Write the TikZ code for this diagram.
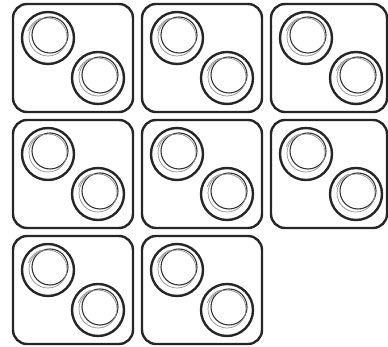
\documentclass[tikz,border=0pt]{standalone}
\begin{document}
\begin{tikzpicture}[x=1pt,y=-1pt,
  boxline/.style={draw=black!85,line width=2.4pt,rounded corners=14pt},
  coinout/.style={draw=black!85,line width=2.4pt},
  coinin/.style={draw=black!80,line width=1.1pt},
  coinin2/.style={draw=black!45,line width=0.7pt},
  shade/.style={draw=black!40,line width=0.8pt},
  pics/coinbox/.style={code={
    \draw[boxline] (0,0) rectangle (#1,108);
    \foreach \cx/\cy in {35/34, 85/74}{
      \draw[coinout] (\cx,\cy) circle[radius=26];
      \draw[coinin] (\cx+2,\cy-3) circle[radius=18];
      \draw[coinin2] (\cx,\cy-1) circle[radius=19];
      \draw[shade] (\cx,\cy) ++(200:21) arc[start angle=200,end angle=250,radius=21];
    }
  }}]
\useasboundingbox (0,0) rectangle (388,347);
\pic at (13,4) {coinbox=120};
\pic at (142,4) {coinbox=120};
\pic at (271,4) {coinbox=116};
\pic at (13,120) {coinbox=120};
\pic at (142,120) {coinbox=120};
\pic at (271,120) {coinbox=116};
\pic at (13,236) {coinbox=120};
\pic at (142,236) {coinbox=120};
\end{tikzpicture}
\end{document}
